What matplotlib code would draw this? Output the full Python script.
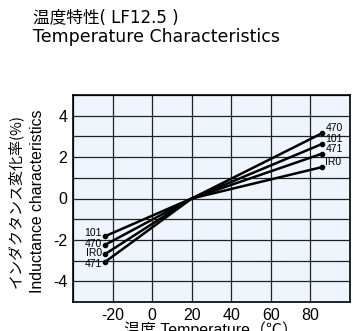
import numpy as np
import matplotlib.pyplot as plt

# data
series = ['470', '101', '471', 'IR0']
t_start = [-24, -24, -24, -24]
t_mid = [20, 20, 20, 20]
t_end = [86, 86, 86, 86]
v_start = [-2.25, -1.83, -3.08, -2.7]
v_end = [3.16, 2.64, 2.17, 1.52]

xticks = [-20, 0, 20, 40, 60, 80]
yticks = [-4, -2, 0, 2, 4]

latin = ['Liberation Sans', 'Noto Sans CJK JP']
cjk = ['Noto Sans CJK JP', 'Liberation Sans']
wide = ['DejaVu Sans', 'Noto Sans CJK JP']
plt.rcParams['font.family'] = latin
plt.rcParams['axes.unicode_minus'] = False

fig = plt.figure(figsize=(3.53, 3.31), dpi=100)
ax = fig.add_axes([73 / 353, 1 - 302 / 331, 277 / 353, 207 / 331])
ax.set_facecolor('#eef5fc')

for i, name in enumerate(series):
    xs = [t_start[i], t_mid[i], t_end[i]]
    ys = [v_start[i], 0, v_end[i]]
    ax.plot(xs, ys, color='black', lw=1.8, solid_capstyle='round')
    ax.plot([t_start[i], t_end[i]], [v_start[i], v_end[i]], 'o',
            color='black', ms=3, ls='none')

# labels at the ends
left_off = {'101': 2, '470': 0, 'IR0': 0, '471': -3}
for i, name in enumerate(series):
    ax.annotate(name, (t_start[i], v_start[i]), xytext=(-3, left_off[name] + 1),
                textcoords='offset pixels', ha='right', va='center', fontsize=7.5)
    ax.annotate(name, (t_end[i], v_end[i]), xytext=(3, 5),
                textcoords='offset pixels', ha='left', va='center', fontsize=7.5)

ax.set_xlim(-40, 100)
ax.set_ylim(-5, 5)
ax.set_xticks(xticks)
ax.set_yticks(yticks)
ax.set_xticks(np.arange(-40, 101, 20), minor=True)
ax.set_yticks(np.arange(-5, 6, 1), minor=True)
ax.grid(which='both', color='#222222', lw=0.9)
ax.set_axisbelow(True)
ax.tick_params(which='both', length=0, labelsize=11.5, pad=4)
for s in ax.spines.values():
    s.set_linewidth(1.2)

ax.set_xlabel('温度 Temperature（℃）', family=latin, fontsize=11.5, labelpad=-1)

fig.text(15 / 353, 1 - 201 / 331, 'インダクタンス変化率(%)', family=cjk, fontsize=10.8,
         rotation=90, ha='center', va='center')
fig.text(38 / 353, 1 - 201 / 331, 'Inductance characteristics', fontsize=11.4,
         rotation=90, ha='center', va='center')

fig.text(33 / 353, 1 - 18 / 331, '温度特性( LF12.5 )', family=wide, fontsize=12,
         ha='left', va='center')
fig.text(33 / 353, 1 - 37 / 331, 'Temperature Characteristics', family=wide,
         fontsize=12.5, ha='left', va='center')

fig.savefig('out.png', dpi=100)
